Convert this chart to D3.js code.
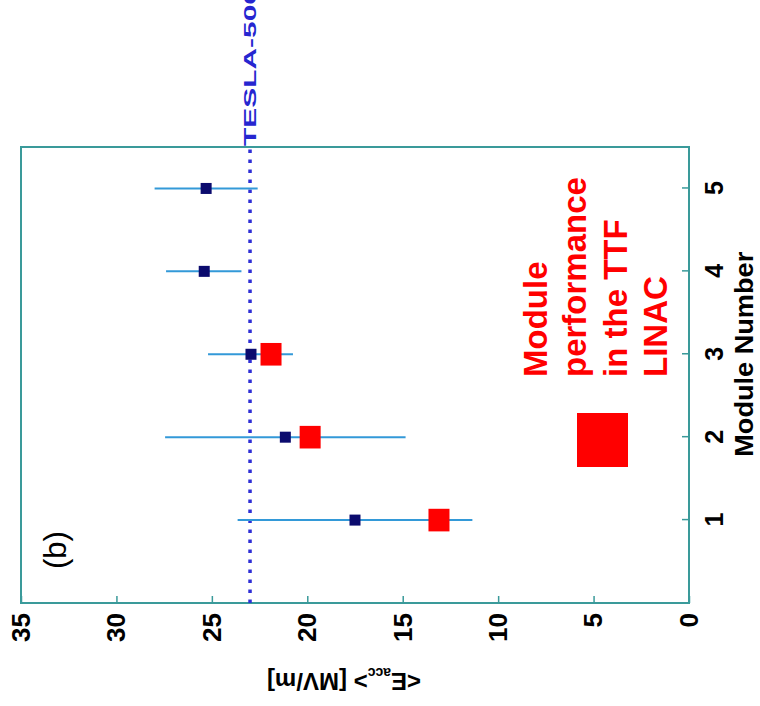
<!DOCTYPE html>
<html>
<head>
<meta charset="utf-8">
<script src="https://cdnjs.cloudflare.com/ajax/libs/d3/7.8.5/d3.min.js"></script>
<style>
  body { margin: 0; background: #fff; }
  svg { display: block; font-family: "Liberation Sans", Arial, sans-serif; }
</style>
</head>
<body>
<div id="chart"></div>
<script>
// module numbers and measured gradients (MV/m)
const modules = [1, 2, 3, 4, 5];
const eacc = [17.5, 21.15, 22.95, 25.4, 25.3];
const eaccLow = [11.35, 14.85, 20.75, 23.45, 22.6];
const eaccHigh = [23.65, 27.45, 25.2, 27.4, 28.0];

// performance in the TTF linac
const linacModules = [1, 2, 3];
const linacEacc = [13.1, 19.85, 21.9];

// TESLA-500 design gradient
const teslaGoal = 23;

// tick labels
const moduleTicks = [1, 2, 3, 4, 5];
const eaccTicks = [0, 5, 10, 15, 20, 25, 30, 35];

const frameColor = '#3a9a9a';

// set the dimensions of the graph (drawn upright, then turned on its side)
let width = 456;
let height = 668;

let svg = d3.select('#chart')
  .append('svg')
  .attr('width', 760)
  .attr('height', 706);

let g = svg.append('g')
  .attr('transform', 'translate(21,603) rotate(-90)');

// set the ranges
let x = d3.scaleLinear().domain([0, 5.5]).range([0, width]);
let y = d3.scaleLinear().domain([0, 35]).range([height, 0]);

// Add the X Axis (module number)
let xAxis = g.append('g')
  .attr('transform', 'translate(0,' + height + ')')
  .call(d3.axisBottom(x).tickValues(moduleTicks).tickFormat(d3.format('d'))
    .tickSizeInner(-7).tickSizeOuter(0).tickPadding(16));

// Add the Y Axis (gradient)
let yAxis = g.append('g')
  .call(d3.axisLeft(y).tickValues(eaccTicks).tickFormat(d3.format('d'))
    .tickSizeInner(-7).tickSizeOuter(0).tickPadding(10));

[xAxis, yAxis].forEach(ax => {
  ax.attr('font-family', null).attr('font-size', null);
  ax.select('.domain').remove();
  ax.selectAll('.tick line').attr('stroke', frameColor).attr('stroke-width', 1.5);
  ax.selectAll('.tick text')
    .attr('fill', '#000')
    .attr('font-weight', 'bold')
    .attr('font-size', 26);
});
xAxis.selectAll('.tick text').attr('font-size', 25);

// frame
g.append('rect')
  .attr('x', 0)
  .attr('y', 0)
  .attr('width', width)
  .attr('height', height)
  .attr('fill', 'none')
  .attr('stroke', frameColor)
  .attr('stroke-width', 2);

// TESLA-500 goal line
g.append('line')
  .attr('x1', 0)
  .attr('x2', width)
  .attr('y1', y(teslaGoal))
  .attr('y2', y(teslaGoal))
  .attr('stroke', '#2f2fd6')
  .attr('stroke-width', 3.5)
  .attr('stroke-dasharray', '3.5 6.5');

g.append('text')
  .attr('x', width + 1)
  .attr('y', y(teslaGoal) + 6)
  .attr('font-size', 17)
  .attr('font-weight', 'bold')
  .attr('fill', '#2626d0')
  .attr('textLength', 158)
  .attr('lengthAdjust', 'spacingAndGlyphs')
  .text('TESLA-500');

// error bars
g.selectAll('.err')
  .data(modules)
  .enter().append('line')
  .attr('class', 'err')
  .attr('x1', d => x(d))
  .attr('x2', d => x(d))
  .attr('y1', (d, i) => y(eaccLow[i]))
  .attr('y2', (d, i) => y(eaccHigh[i]))
  .attr('stroke', '#3399d8')
  .attr('stroke-width', 2);

// mean gradient markers
g.selectAll('.mean')
  .data(modules)
  .enter().append('rect')
  .attr('class', 'mean')
  .attr('x', d => x(d) - 5.5)
  .attr('y', (d, i) => y(eacc[i]) - 5.5)
  .attr('width', 11)
  .attr('height', 11)
  .attr('fill', '#0b0b6e');

// linac markers
g.selectAll('.linac')
  .data(linacModules)
  .enter().append('rect')
  .attr('class', 'linac')
  .attr('x', d => x(d) - 11.3)
  .attr('y', (d, i) => y(linacEacc[i]) - 10.5)
  .attr('width', 22.6)
  .attr('height', 21)
  .attr('fill', '#ff0000');

// legend
g.append('rect')
  .attr('x', 136)
  .attr('y', 556)
  .attr('width', 54)
  .attr('height', 51)
  .attr('fill', '#ff0000');

let legendLines = ['Module', 'performance', 'in the TTF', 'LINAC'];
let legendY = [526, 565, 606, 646];
g.selectAll('.legend')
  .data(legendLines)
  .enter().append('text')
  .attr('class', 'legend')
  .attr('x', 226)
  .attr('y', (d, i) => legendY[i])
  .attr('font-size', 33)
  .attr('font-weight', 'bold')
  .attr('fill', '#ff0000')
  .text(d => d);

// panel label
g.append('text')
  .attr('x', 34)
  .attr('y', 45)
  .attr('font-size', 31)
  .attr('fill', '#000')
  .text('(b)');

// axis titles
g.append('text')
  .attr('x', x(3))
  .attr('y', height + 64)
  .attr('text-anchor', 'middle')
  .attr('font-size', 25)
  .attr('font-weight', 'bold')
  .attr('fill', '#000')
  .attr('textLength', 205)
  .attr('lengthAdjust', 'spacingAndGlyphs')
  .text('Module Number');

let yTitle = g.append('text')
  .attr('transform', 'translate(-70,323) rotate(-90)')
  .attr('text-anchor', 'middle')
  .attr('font-size', 24)
  .attr('font-weight', 'bold')
  .attr('fill', '#000');
yTitle.append('tspan').text('<E');
yTitle.append('tspan').attr('font-size', 14).attr('dy', 5).text('acc');
yTitle.append('tspan').attr('dy', -5).text('> [MV/m]');
</script>
</body>
</html>
